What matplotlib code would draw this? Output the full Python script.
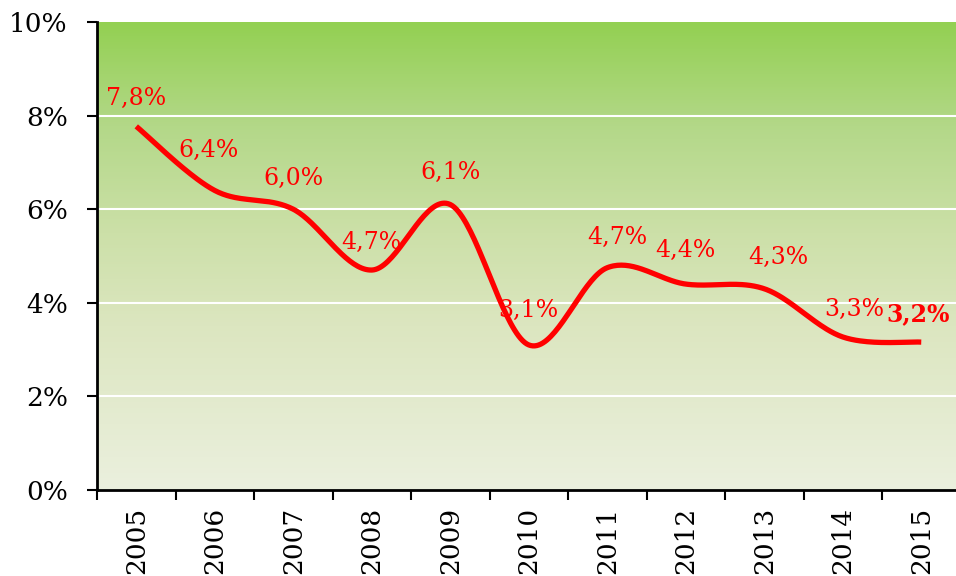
import numpy as np
import matplotlib.pyplot as plt
from matplotlib.colors import LinearSegmentedColormap

plt.rcParams["font.family"] = ["DejaVu Serif"]

years = ["2005", "2006", "2007", "2008", "2009", "2010",
         "2011", "2012", "2013", "2014", "2015"]
rate = [7.77, 6.4, 6.0, 4.7, 6.1, 3.1, 4.75, 4.4, 4.3, 3.27, 3.16]
labels = ["7,8%", "6,4%", "6,0%", "4,7%", "6,1%", "3,1%",
          "4,7%", "4,4%", "4,3%", "3,3%", "3,2%"]
# label offsets from the point, in pixels (dx, dy)
label_off = [(0, 28), (-6, 40), (0, 31), (0, 28), (0, 32), (0, 34),
             (10, 30), (0, 34), (14, 31), (12, 27), (-3, 28)]


def smooth(xs, ys, n=40):
    # Excel-like smoothed line: Bezier with 1/6 tangents (Catmull-Rom)
    xs, ys = np.asarray(xs, float), np.asarray(ys, float)
    px = np.concatenate([[xs[0]], xs, [xs[-1]]])
    py = np.concatenate([[ys[0]], ys, [ys[-1]]])
    outx, outy = [], []
    t = np.linspace(0, 1, n)
    for i in range(1, len(px) - 2):
        p0 = np.array([px[i], py[i]])
        p3 = np.array([px[i + 1], py[i + 1]])
        p1 = p0 + (np.array([px[i + 1], py[i + 1]]) - np.array([px[i - 1], py[i - 1]])) / 6
        p2 = p3 - (np.array([px[i + 2], py[i + 2]]) - np.array([px[i], py[i]])) / 6
        b = ((1 - t) ** 3)[:, None] * p0 + (3 * (1 - t) ** 2 * t)[:, None] * p1 \
            + (3 * (1 - t) * t ** 2)[:, None] * p2 + (t ** 3)[:, None] * p3
        outx.extend(b[:, 0])
        outy.extend(b[:, 1])
    return np.array(outx), np.array(outy)


fig = plt.figure(figsize=(9.56, 5.76), dpi=100)
ax = fig.add_axes([97 / 956, 86 / 576, (960.5 - 97) / 956, 468 / 576])

x = np.arange(len(years))
ax.set_xlim(-0.5, len(years) - 0.5)
ax.set_ylim(0, 10)

# gradient background
cmap = LinearSegmentedColormap.from_list("bg", [
    (0.0, "#EBF0DE"), (0.35, "#DCE6C0"), (0.55, "#CCE0A8"),
    (0.78, "#B3D888"), (1.0, "#93D052")])
grad = np.linspace(0, 1, 256)[:, None]
ax.imshow(grad, cmap=cmap, aspect="auto", origin="lower",
          extent=(-0.5, len(years) - 0.5, 0, 10), zorder=0)

for g in [2, 4, 6, 8]:
    ax.axhline(g, color="white", lw=1.5, zorder=1)

sx, sy = smooth(x, rate)
ax.plot(sx, sy, color="#FF0000", lw=3.8, solid_capstyle="butt", zorder=3)

for i, (xi, v, lab) in enumerate(zip(x, rate, labels)):
    dx, dy = label_off[i]
    ax.annotate(lab, (xi, v), xytext=(dx * 0.72, dy * 0.72), textcoords="offset points",
                ha="center", va="center", color="#FF0000", fontsize=17,
                fontweight="bold" if i == len(rate) - 1 else "normal", zorder=4)

ax.set_yticks([0, 2, 4, 6, 8, 10])
ax.set_yticklabels([f"{v}%" for v in [0, 2, 4, 6, 8, 10]], fontsize=19)
ax.set_xticks(np.arange(-0.5, len(years) - 0.5, 1.0))
ax.set_xticklabels([])
ax.set_xticks(x, minor=True)
ax.set_xticklabels(years, minor=True, rotation=90, fontsize=19, va="top")
ax.tick_params(axis="x", which="minor", length=0, pad=12)
ax.tick_params(axis="x", which="major", length=7, width=1.5, direction="out")
ax.tick_params(axis="y", length=7, width=1.5, direction="out", pad=14)

for s in ["top", "right"]:
    ax.spines[s].set_visible(False)
for s in ["left", "bottom"]:
    ax.spines[s].set_linewidth(2)
    ax.spines[s].set_zorder(5)

fig.savefig("out.png", dpi=100)
